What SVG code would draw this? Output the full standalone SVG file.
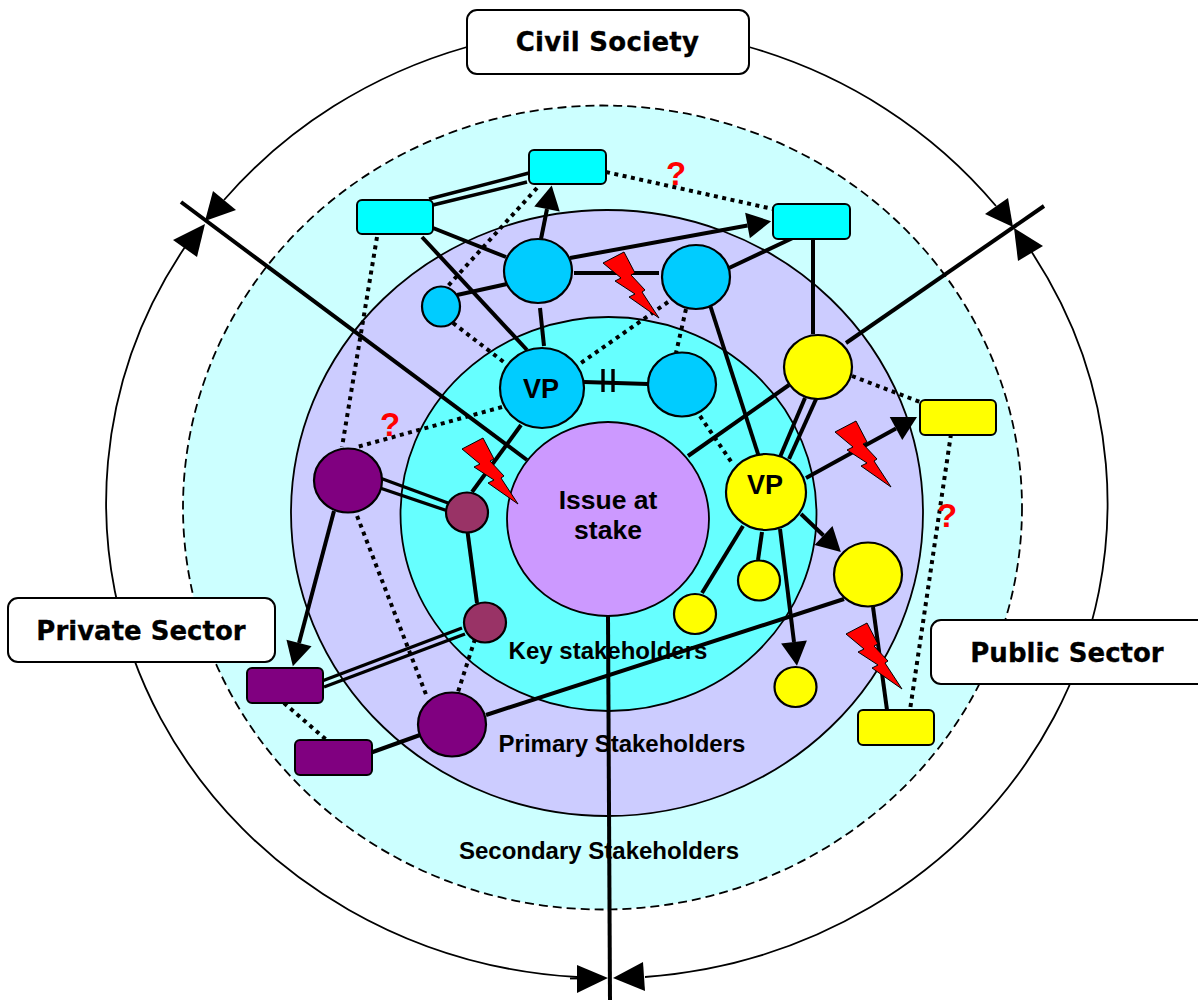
<svg xmlns="http://www.w3.org/2000/svg" xmlns:xlink="http://www.w3.org/1999/xlink" width="1198" height="1000" viewBox="0 0 1198 1000">
<style>
.ring{stroke:#000;stroke-width:1.800}
.n{stroke:#000;stroke-width:2.200}
.r{stroke:#000;stroke-width:2}
.blue{fill:#00CCFF}.cy{fill:#00FFFF}.yl{fill:#FFFF00}.pu{fill:#800080}.ma{fill:#993366}
.l{stroke:#000;stroke-width:4;fill:none}
.w{stroke-width:3.400}
.d{stroke:#000;stroke-width:4;stroke-dasharray:4 4.500;fill:none}
.t{stroke:#000;stroke-width:1.800;fill:none}
.h{fill:#000}
.bolt{fill:#FF0000;stroke:#000;stroke-width:1}
.box{fill:#fff;stroke:#000;stroke-width:2}
.bl{font-family:"DejaVu Sans",sans-serif;font-weight:700;font-size:26px;text-anchor:middle;fill:#000;stroke:#000;stroke-width:.3}
.a{font-family:"Liberation Sans",Arial,sans-serif;font-weight:700;text-anchor:middle;fill:#000}
.lb{font-size:24px}
.q{font-size:33px;fill:#FF0000}
</style>
<defs>
<marker id="ah" markerUnits="userSpaceOnUse" markerWidth="24" markerHeight="26" refX="0" refY="13" orient="auto" overflow="visible"><path d="M0,0L24,13L0,26Z" fill="#000"/></marker>
<polygon id="zap" class="bolt" points="0,0 21,-11 32,10 28,12 42,27 39,29 56,55 26,34 32,31 12,18 18,15"/>
</defs>
<g id="rings">
<ellipse class="ring" cx="602.5" cy="507.5" rx="419.5" ry="402" fill="#CCFFFF" stroke-dasharray="9 5"/>
<ellipse class="ring" cx="607" cy="513" rx="316" ry="303" fill="#CCCCFF"/>
<ellipse class="ring" cx="608.5" cy="514" rx="208" ry="197" fill="#66FFFF"/>
</g>
<g id="outer-arcs">
<path class="t" d="M467,47A501,475 0 0 0 224,200"/>
<path class="t" d="M185,247A501,475 0 0 0 577,977"/>
<path class="t" d="M749,47A501,475 0 0 1 996,206"/>
<path class="t" d="M1031,251A501,475 0 0 1 645,977"/>
<path class="t" d="M570,978.500H578"/>
<polygon class="h" points="205,221 213,191 236,210"/>
<polygon class="h" points="205,224 173,240 197,257"/>
<polygon class="h" points="1013,227 985,214 1008,198"/>
<polygon class="h" points="1014,228 1043,246 1018,261"/>
<polygon class="h" points="608,978 577,965 577,993"/>
<polygon class="h" points="613,978 643,962 645,991"/>
</g>
<g id="issue"><ellipse class="ring" cx="608" cy="519" rx="101" ry="97" fill="#CC99FF"/><text class="a" x="608" y="509" font-size="26.500">Issue at</text><text class="a" x="608" y="539" font-size="26.500">stake</text></g>
<text class="a lb" x="608" y="659">Key stakeholders</text>
<text class="a lb" x="622" y="752">Primary Stakeholders</text>
<text class="a lb" x="599" y="859">Secondary Stakeholders</text>
<g id="connectors">
<line class="l" x1="181" y1="202" x2="527" y2="460"/>
<line class="l" x1="1044" y1="206" x2="846" y2="343"/>
<line class="l" x1="789" y1="385" x2="688" y2="456"/>
<line class="l" x1="608" y1="616" x2="610" y2="1000"/>
<line class="l w" x1="429" y1="199" x2="529" y2="173"/>
<line class="l w" x1="433" y1="205" x2="527" y2="182"/>
<line class="l" x1="428" y1="226" x2="506" y2="257"/>
<line class="l" x1="422" y1="237" x2="527" y2="350"/>
<line class="d" x1="377" y1="237" x2="342" y2="447"/>
<line class="l" x1="457" y1="295" x2="507" y2="284"/>
<line class="d" x1="537" y1="188" x2="447" y2="287"/>
<line class="d" x1="453" y1="323" x2="505" y2="363"/>
<line class="l" x1="540" y1="308" x2="544" y2="346"/>
<line class="l" x1="541" y1="239" x2="547" y2="209" marker-end="url(#ah)"/>
<line class="l" x1="570" y1="258" x2="747.500" y2="225.500" marker-end="url(#ah)"/>
<line class="l" x1="574" y1="273" x2="659" y2="273"/>
<line class="l" x1="729" y1="268" x2="797" y2="236"/>
<line class="l" x1="813" y1="239" x2="813" y2="334"/>
<line class="d" x1="606" y1="172" x2="773" y2="209"/>
<line class="d" x1="668" y1="302" x2="578" y2="365"/>
<line class="d" x1="686" y1="309" x2="676" y2="353"/>
<line class="l" x1="710" y1="305" x2="759" y2="457"/>
<line class="l" x1="584" y1="382" x2="648" y2="384"/>
<line class="l w" x1="603" y1="369" x2="603" y2="392"/>
<line class="l w" x1="613" y1="369" x2="613" y2="392"/>
<line class="d" x1="700" y1="416" x2="732" y2="463"/>
<line class="d" x1="502" y1="407" x2="357" y2="447"/>
<line class="l" x1="521" y1="425" x2="472" y2="492"/>
<line class="l" x1="805" y1="398" x2="780" y2="457"/>
<line class="l" x1="817" y1="397" x2="789" y2="459"/>
<line class="d" x1="852" y1="376" x2="920" y2="402"/>
<line class="l" x1="806" y1="478" x2="896" y2="428.500" marker-end="url(#ah)"/>
<line class="d" x1="951" y1="434" x2="910" y2="710"/>
<line class="l" x1="801" y1="514" x2="823.500" y2="535.500" marker-end="url(#ah)"/>
<line class="l" x1="743" y1="526" x2="702" y2="593"/>
<line class="l" x1="762" y1="532" x2="758" y2="560"/>
<line class="l" x1="780" y1="529" x2="794" y2="642" marker-end="url(#ah)"/>
<line class="l" x1="844" y1="599" x2="486" y2="715"/>
<line class="l" x1="420" y1="735" x2="370" y2="753"/>
<line class="l" x1="873" y1="607" x2="887" y2="710"/>
<line class="l w" x1="380" y1="478" x2="448" y2="503"/>
<line class="l w" x1="380" y1="488" x2="448" y2="511"/>
<line class="l" x1="467" y1="528" x2="477" y2="603"/>
<line class="l" x1="334" y1="511" x2="299" y2="643" marker-end="url(#ah)"/>
<line class="l w" x1="462" y1="628" x2="322" y2="681"/>
<line class="l w" x1="465" y1="634" x2="324" y2="687"/>
<line class="d" x1="354" y1="508" x2="427" y2="697"/>
<line class="d" x1="475" y1="639" x2="458" y2="692"/>
<line class="d" x1="284" y1="703" x2="330" y2="743"/>
</g>
<g id="rect-cyan-top"><rect class="r cy" x="529" y="150" width="77" height="34" rx="5"/></g>
<g id="rect-cyan-left"><rect class="r cy" x="357" y="200" width="76" height="34" rx="5"/></g>
<g id="rect-cyan-right"><rect class="r cy" x="773" y="204" width="77" height="35" rx="5"/></g>
<g id="rect-yellow-right"><rect class="r yl" x="920" y="400" width="76" height="35" rx="5"/></g>
<g id="rect-yellow-bottom"><rect class="r yl" x="858" y="710" width="76" height="35" rx="5"/></g>
<g id="rect-purple-a"><rect class="r pu" x="247" y="668" width="76" height="35" rx="5"/></g>
<g id="rect-purple-b"><rect class="r pu" x="295" y="740" width="77" height="35" rx="5"/></g>
<g id="blue-big"><ellipse class="n blue" cx="538" cy="271" rx="34" ry="32"/></g>
<g id="blue-small"><ellipse class="n blue" cx="441" cy="306.500" rx="19" ry="20"/></g>
<g id="blue-vp"><ellipse class="n blue" cx="542" cy="388" rx="42" ry="40"/><text class="a" x="541" y="398" font-size="27">VP</text></g>
<g id="blue-right"><ellipse class="n blue" cx="696" cy="277" rx="34" ry="32"/></g>
<g id="blue-inner"><ellipse class="n blue" cx="682" cy="384.500" rx="34" ry="32"/></g>
<g id="yellow-top"><ellipse class="n yl" cx="818" cy="367" rx="34" ry="32"/></g>
<g id="yellow-vp"><ellipse class="n yl" cx="766" cy="492" rx="40" ry="38"/><text class="a" x="765" y="494" font-size="27">VP</text></g>
<g id="yellow-big"><ellipse class="n yl" cx="868" cy="574.500" rx="34" ry="32"/></g>
<g id="yellow-s1"><ellipse class="n yl" cx="759" cy="580.500" rx="21" ry="20"/></g>
<g id="yellow-s2"><ellipse class="n yl" cx="695" cy="614" rx="21" ry="20"/></g>
<g id="yellow-s3"><ellipse class="n yl" cx="795.500" cy="687" rx="21" ry="20"/></g>
<g id="purple-top"><ellipse class="n pu" cx="348" cy="480.500" rx="34" ry="32"/></g>
<g id="maroon-top"><ellipse class="n ma" cx="467" cy="512.500" rx="21" ry="20"/></g>
<g id="maroon-bottom"><ellipse class="n ma" cx="485" cy="622.500" rx="21" ry="20"/></g>
<g id="purple-bottom"><ellipse class="n pu" cx="452" cy="724.500" rx="34" ry="32"/></g>
<g id="conflicts">
<use href="#zap" x="603" y="263"/>
<use href="#zap" x="835" y="432"/>
<use href="#zap" x="846" y="634"/>
<use href="#zap" x="462" y="449"/>
</g>
<g id="questions">
<text class="a q" x="390" y="436">?</text>
<text class="a q" x="676" y="185">?</text>
<text class="a q" x="947" y="527">?</text>
</g>
<g id="civil-society"><rect class="box" x="467" y="10" width="282" height="64" rx="10"/><text class="bl" x="607.500" y="51" letter-spacing=".3">Civil Society</text></g>
<g id="private-sector"><rect class="box" x="8" y="598" width="267" height="64" rx="10"/><text class="bl" x="141" y="640">Private Sector</text></g>
<g id="public-sector"><rect class="box" x="931" y="620" width="280" height="64" rx="10"/><text class="bl" x="1067" y="662">Public Sector</text></g>
</svg>
